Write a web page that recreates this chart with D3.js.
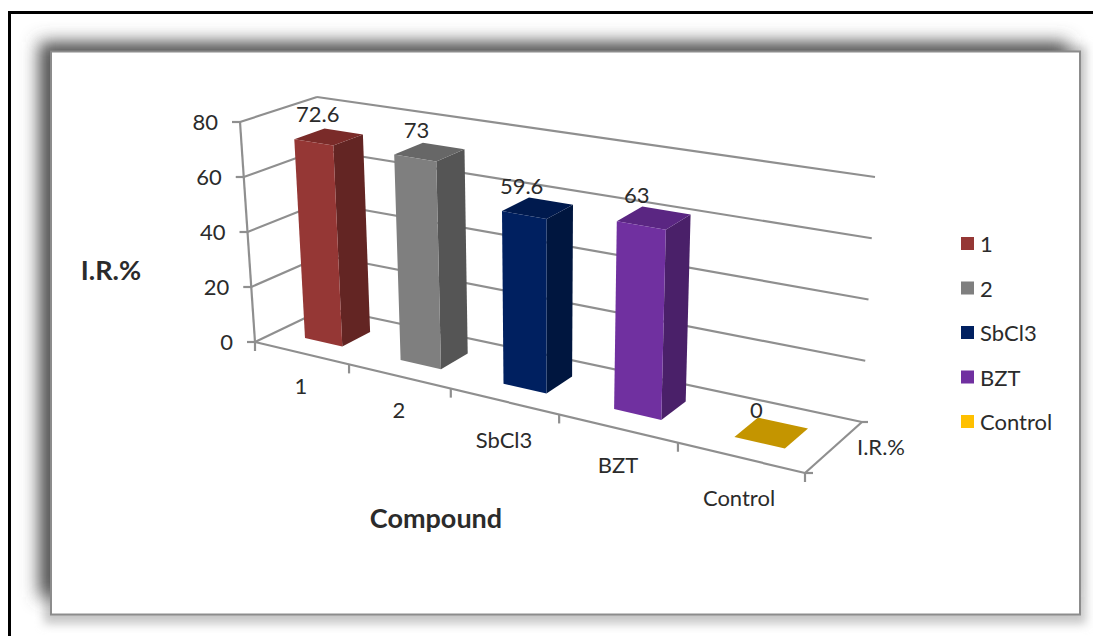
<!DOCTYPE html>
<html>
<head>
<meta charset="utf-8">
<style>
  html, body { margin: 0; padding: 0; background: #fff; }
  svg { display: block; }
  text { font-family: Lato, "Open Sans", sans-serif; fill: #2b2b2b; }
</style>
<script src="https://cdn.jsdelivr.net/npm/d3@7"></script>
</head>
<body>
<div id="chart"></div>
<script>
const WIDTH = 1093
const HEIGHT = 636

const categories = ['1', '2', 'SbCl3', 'BZT', 'Control']
const values = [72.6, 73, 59.6, 63, 0]
const valueLabels = ['72.6', '73', '59.6', '63', '0']
const yTicks = [0, 20, 40, 60, 80]
const frontColors = ['#953735', '#7f7f7f', '#002060', '#7030a0', '#c49500']
const sideColors = ['#632523', '#555555', '#00163f', '#4a2069', '#c49500']
const topColors = ['#7a2b29', '#676767', '#001a4e', '#5a2682', '#c49500']
const legendColors = ['#953735', '#7f7f7f', '#002060', '#7030a0', '#ffc000']

// the box of the 3d chart on screen: [x, y] of floor and ceiling corners
// order is front-left, front-right, back-left, back-right
const FLOOR = [[255, 342], [805, 473], [326, 308], [862, 422]]
const CEIL = [[240, 122], [819, 218], [317, 97], [875, 177]]

const bilerp = (c, u, v) => [0, 1].map(k =>
    (c[0][k] * (1 - u) + c[1][k] * u) * (1 - v) + (c[2][k] * (1 - u) + c[3][k] * u) * v)

function project(u, v, h) {
    let a = bilerp(FLOOR, u, v)
    let b = bilerp(CEIL, u, v)
    return [a[0] + (b[0] - a[0]) * h, a[1] + (b[1] - a[1]) * h]
}

// category axis is foreshortened so the bands are not even
const xScale = d3.scaleLinear().domain([0, 1, 2, 3, 4, 5]).range([0, 0.171, 0.356, 0.553, 0.769, 1])
const yScale = d3.scaleLinear().domain([0, 80]).range([0, 1])
const zFront = 0.31
const zBack = 0.71

const poly = pts => 'M' + pts.map(p => p[0].toFixed(1) + ',' + p[1].toFixed(1)).join('L') + 'Z'

const svg = d3.select('#chart').append('svg')
    .attr('width', WIDTH)
    .attr('height', HEIGHT)

const defs = svg.append('defs')
defs.append('filter').attr('id', 'blurBig')
    .attr('x', '-10%').attr('y', '-10%').attr('width', '120%').attr('height', '120%')
    .append('feGaussianBlur').attr('stdDeviation', 9)
defs.append('filter').attr('id', 'blurSmall')
    .attr('x', '-10%').attr('y', '-10%').attr('width', '120%').attr('height', '120%')
    .append('feGaussianBlur').attr('stdDeviation', 5)

// outer frame, only top and left are in the picture
svg.append('path')
    .attr('d', `M9.5,${HEIGHT}V12.5H${WIDTH}`)
    .attr('fill', 'none')
    .attr('stroke', '#000')
    .attr('stroke-width', 3)

// panel with its shadow
svg.append('rect')
    .attr('x', 44).attr('y', 46).attr('width', 1042).attr('height', 578)
    .attr('fill', '#c8c8c8')
    .attr('filter', 'url(#blurSmall)')
svg.append('rect')
    .attr('x', 39).attr('y', 42).attr('width', 1029).attr('height', 555)
    .attr('fill', '#555')
    .attr('filter', 'url(#blurBig)')
svg.append('rect')
    .attr('x', 51).attr('y', 51.5).attr('width', 1029).attr('height', 563)
    .attr('fill', '#fff')
    .attr('stroke', '#8c8c8c')
    .attr('stroke-width', 2)

const axisColor = '#8f8f8f'
const line = (a, b) => svg.append('line')
    .attr('x1', a[0]).attr('y1', a[1])
    .attr('x2', b[0]).attr('y2', b[1])
    .attr('stroke', axisColor)
    .attr('stroke-width', 2.2)

// walls
yTicks.forEach(t => {
    let h = yScale(t)
    let front = project(0, 0, h)
    let corner = project(0, 1, h)
    let end = project(1, 1, h)
    line(front, corner)
    line(corner, end)
    line([front[0] - 8, front[1]], front)
    svg.append('text')
        .attr('x', front[0] - 22)
        .attr('y', front[1] + 8)
        .attr('text-anchor', 'end')
        .style('font-size', '22px')
        .text(t)
})
line(project(0, 0, 0), project(0, 0, 1))

// floor edges and ticks
line(project(0, 0, 0), project(1, 0, 0))
line(project(1, 0, 0), project(1, 1, 0))
xScale.domain().forEach(d => {
    let p = project(xScale(d), 0, 0)
    line(p, [p[0], p[1] + 9])
})
line(project(1, 0, 0), [project(1, 0, 0)[0] + 8, project(1, 0, 0)[1]])
line(project(1, 1, 0), [project(1, 1, 0)[0] + 6, project(1, 1, 0)[1]])

// category labels, they sit under the front axis but not on a straight offset
const categoryAnchors = [[301, 386], [399, 410], [504, 440], [618, 465], [739, 498]]
svg.selectAll('.cat')
    .data(categories)
    .join('text')
    .attr('class', 'cat')
    .attr('x', (d, i) => categoryAnchors[i][0])
    .attr('y', (d, i) => categoryAnchors[i][1] + 8)
    .attr('text-anchor', 'middle')
    .style('font-size', '22px')
    .text(d => d)

svg.append('text').attr('x', 881).attr('y', 455)
    .attr('text-anchor', 'middle')
    .style('font-size', '22px')
    .text('I.R.%')

// bars
const bars = svg.selectAll('.bar')
    .data(values)
    .join('g')
    .attr('class', 'bar')

bars.each(function(d, i) {
    let g = d3.select(this)
    let u0 = xScale(i + 0.3)
    let u1 = xScale(i + 0.7)
    let h = yScale(d)
    if (d === 0) {
        g.append('path')
            .attr('d', poly([project(u0, zFront, 0), project(u1, zFront, 0), project(u1, zBack, 0), project(u0, zBack, 0)]))
            .attr('fill', frontColors[i])
        return
    }
    g.append('path')
        .attr('d', poly([project(u1, zFront, 0), project(u1, zBack, 0), project(u1, zBack, h), project(u1, zFront, h)]))
        .attr('fill', sideColors[i])
    g.append('path')
        .attr('d', poly([project(u0, zFront, h), project(u1, zFront, h), project(u1, zBack, h), project(u0, zBack, h)]))
        .attr('fill', topColors[i])
    g.append('path')
        .attr('d', poly([project(u0, zFront, 0), project(u1, zFront, 0), project(u1, zFront, h), project(u0, zFront, h)]))
        .attr('fill', frontColors[i])
})

// data labels do not sit in the same spot over each bar
const labelDx = [-11, -13, -16, -17, -15]
svg.selectAll('.val')
    .data(values)
    .join('text')
    .attr('class', 'val')
    .attr('x', (d, i) => project(xScale(i + 0.5), (zFront + zBack) / 2, yScale(d))[0] + labelDx[i])
    .attr('y', (d, i) => project(xScale(i + 0.5), (zFront + zBack) / 2, yScale(d))[1] - 14.5)
    .attr('text-anchor', 'middle')
    .style('font-size', '22px')
    .text((d, i) => valueLabels[i])

// axis titles
svg.append('text').attr('x', 111).attr('y', 280)
    .attr('text-anchor', 'middle')
    .style('font-size', '27px')
    .style('font-weight', 'bold')
    .text('I.R.%')
svg.append('text').attr('x', 436).attr('y', 528)
    .attr('text-anchor', 'middle')
    .style('font-size', '27px')
    .style('font-weight', 'bold')
    .text('Compound')

// legend
const legendY = d3.scalePoint().domain(categories).range([244, 422])
const legend = svg.selectAll('.legend')
    .data(categories)
    .join('g')
    .attr('class', 'legend')
    .attr('transform', d => `translate(961,${legendY(d)})`)
legend.append('rect')
    .attr('x', 0).attr('y', -7)
    .attr('width', 13).attr('height', 13)
    .attr('fill', (d, i) => legendColors[i])
legend.append('text')
    .attr('x', 19).attr('y', 8)
    .style('font-size', '22px')
    .text(d => d)
</script>
</body>
</html>
